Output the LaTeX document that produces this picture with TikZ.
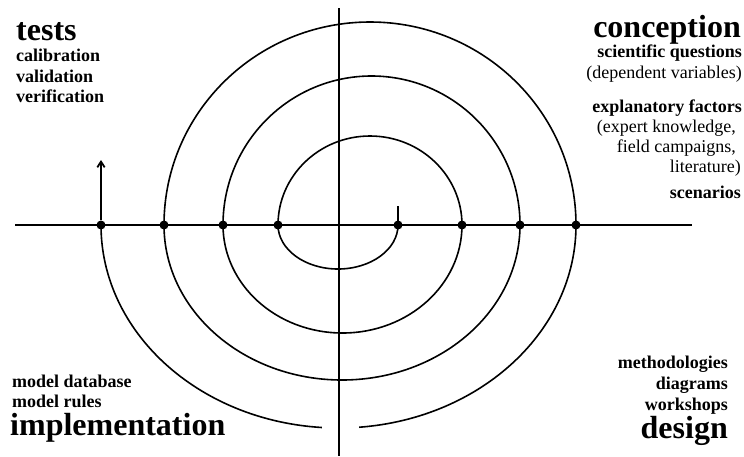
\documentclass[tikz,border=0pt]{standalone}
\usepackage{fontspec}
\setmainfont{Liberation Serif}
\usetikzlibrary{arrows.meta}
\tikzset{
  axisline/.style = {line width=2pt},
  spiral/.style   = {line width=1.6pt},
  dot/.style      = {circle, fill=black, inner sep=0pt, minimum size=9pt},
  phase/.style    = {font=\bfseries\fontsize{32}{34}\selectfont, inner sep=0pt},
  item/.style     = {font=\bfseries\fontsize{18}{20}\selectfont, inner sep=0pt},
  note/.style     = {font=\fontsize{18}{20}\selectfont, inner sep=0pt},
  outarrow/.style = {-{Straight Barb[length=2mm,width=2.6mm]}, line width=1.8pt},
}

\begin{document}
\begin{tikzpicture}[x=1pt,y=-1pt]
  \useasboundingbox (0,0) rectangle (744,456);
  % axes
  \coordinate (west) at (15,225);
  \coordinate (east) at (692,225);
  \coordinate (north) at (339,8);
  \coordinate (south) at (339,456);
  \draw[axisline] (west) -- (east);
  \draw[axisline] (north) -- (south);
  % crossings of the spiral with the axis
  \node[dot] (p1) at (101,225) {};
  \node[dot] (p2) at (164,225) {};
  \node[dot] (p3) at (223,225) {};
  \node[dot] (p4) at (278,225) {};
  \node[dot] (p5) at (398,225) {};
  \node[dot] (p6) at (462,225) {};
  \node[dot] (p7) at (520,225) {};
  \node[dot] (p8) at (576,225) {};
  % spiral, from the inside out
  \coordinate (start) at (398,206);
  \draw[spiral] (start) -- (p5.center)
    arc[start angle=0,end angle=180,x radius=60,y radius=44]
    arc[start angle=180,end angle=360,x radius=92,y radius=89]
    arc[start angle=0,end angle=180,x radius=119.5,y radius=108]
    arc[start angle=180,end angle=360,x radius=148.5,y radius=149]
    arc[start angle=0,end angle=180,x radius=178,y radius=155]
    arc[start angle=180,end angle=360,x radius=206,y radius=203]
    arc[start angle=0,end angle=85,x radius=237.5,y radius=203];
  \draw[spiral] (p1.center) arc[start angle=180,end angle=94,x radius=237.5,y radius=203];
  \coordinate (tip) at (101,160);
  \draw[outarrow] (p1) -- (tip);
  % tests
  \node[phase,anchor=base west] (tests) at (16,40) {tests};
  \node[item,anchor=base west] (calib) at (16,61) {calibration};
  \node[item,anchor=base west] (valid) at (16,82) {validation};
  \node[item,anchor=base west] (verif) at (16,102) {verification};
  % conception
  \node[phase,anchor=base east] (concept) at (741,37) {conception};
  \node[item,anchor=base east] (questions) at (742,57) {scientific questions};
  \node[note,anchor=base east] (depvar) at (742,78) {(dependent variables)};
  \node[item,anchor=base east] (factors) at (742,112) {explanatory factors};
  \node[note,anchor=base east] (expert) at (736,132) {(expert knowledge,};
  \node[note,anchor=base east] (field) at (736,152) {field campaigns,};
  \node[note,anchor=base east] (lit) at (741,172) {literature)};
  \node[item,anchor=base east] (scen) at (741,198) {scenarios};
  % implementation
  \node[item,anchor=base west] (database) at (12,387) {model database};
  \node[item,anchor=base west] (rules) at (12,407) {model rules};
  \node[phase,anchor=base west] (implem) at (10,435) {implementation};
  % design
  \node[item,anchor=base east] (method) at (728,368) {methodologies};
  \node[item,anchor=base east] (diagr) at (728,389) {diagrams};
  \node[item,anchor=base east] (work) at (728,410) {workshops};
  \node[phase,anchor=base east] (design) at (728,438) {design};
\end{tikzpicture}
\end{document}
